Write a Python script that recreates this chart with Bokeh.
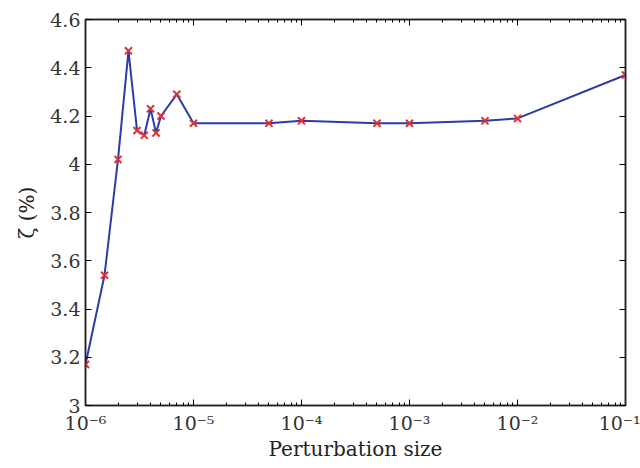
from bokeh.plotting import figure
from bokeh.models import LogAxis, LinearAxis, FixedTicker, LogTicker, CustomJSTickFormatter, Range1d
from bokeh.embed import file_html
from bokeh.resources import INLINE

perturbation = [1e-6, 1.5e-6, 2e-6, 2.5e-6, 3e-6, 3.5e-6, 4e-6, 4.5e-6, 5e-6, 7e-6,
                1e-5, 5e-5, 1e-4, 5e-4, 1e-3, 5e-3, 1e-2, 1e-1]
zeta = [3.17, 3.54, 4.02, 4.47, 4.14, 4.12, 4.23, 4.13, 4.20, 4.29,
        4.17, 4.17, 4.18, 4.17, 4.17, 4.18, 4.19, 4.37]
y_ticks = [3, 3.2, 3.4, 3.6, 3.8, 4, 4.2, 4.4, 4.6]
x_ticks = [1e-6, 1e-5, 1e-4, 1e-3, 1e-2, 1e-1]

FONT = "DejaVu Serif"

p = figure(width=640, height=468, x_axis_type="log", output_backend="svg",
           toolbar_location=None, x_range=Range1d(1e-6, 1e-1), y_range=Range1d(3, 4.6),
           min_border_left=85, min_border_right=15, min_border_top=19, min_border_bottom=63)
p.grid.visible = False
p.outline_line_color = "#222222"
p.outline_line_width = 1.5
p.background_fill_color = "white"

p.line(perturbation, zeta, line_color="#2b3ca8", line_width=2)
p.scatter(perturbation, zeta, marker="x", size=10, line_color="#e03030", line_width=2)

fmt = CustomJSTickFormatter(code="""
const sup = {'-':'\\u207b','0':'\\u2070','1':'\\u00b9','2':'\\u00b2','3':'\\u00b3','4':'\\u2074','5':'\\u2075','6':'\\u2076','7':'\\u2077','8':'\\u2078','9':'\\u2079'};
const e = Math.round(Math.log10(tick)).toString();
return '10' + e.split('').map(c => sup[c]).join('');
""")
blank = CustomJSTickFormatter(code="return '';")

xa = p.xaxis[0]
xa.ticker = LogTicker(desired_num_ticks=6, num_minor_ticks=10)
xa.formatter = fmt
ya = p.yaxis[0]
ya.ticker = FixedTicker(ticks=y_ticks)

for ax in (xa, ya):
    ax.major_tick_in = 6
    ax.major_tick_out = 0
    ax.minor_tick_in = 3
    ax.minor_tick_out = 0
    ax.axis_line_color = "#222222"
    ax.axis_line_width = 1.5
    ax.major_label_text_font = FONT
    ax.major_label_text_font_size = "19px"
    ax.major_label_text_color = "#333333"
    ax.axis_label_text_font = FONT
    ax.axis_label_text_font_style = "normal"
    ax.axis_label_text_font_size = "20px"
    ax.axis_label_text_color = "#222222"

xa.axis_label = "Perturbation size"
xa.axis_label_standoff = 0
xa.major_label_standoff = 6
ya.axis_label = "ζ (%)"
ya.axis_label_standoff = 8
ya.major_label_standoff = 5

top = LogAxis(ticker=LogTicker(desired_num_ticks=6, num_minor_ticks=10), formatter=blank,
              major_tick_in=6, major_tick_out=0,
              minor_tick_in=3, minor_tick_out=0, axis_line_color="#222222", axis_line_width=1.5)
right = LinearAxis(ticker=FixedTicker(ticks=y_ticks), formatter=blank,
                   major_tick_in=6, major_tick_out=0, minor_tick_line_color=None,
                   axis_line_color="#222222", axis_line_width=1.5)
p.add_layout(top, "above")
p.add_layout(right, "right")

open("out.html", "w").write(file_html(p, INLINE))
